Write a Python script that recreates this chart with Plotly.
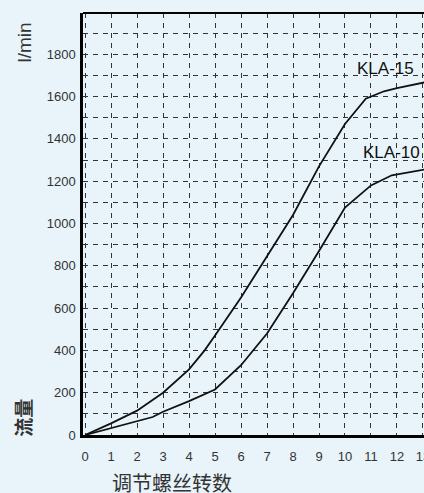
import plotly.graph_objects as go

# turns of the adjusting screw vs. flow (l/min)
kla15_x = [0, 1, 2, 3, 4, 4.6, 5, 6, 7, 8, 9, 10, 10.8, 11.5, 12, 13.1]
kla15_y = [0, 55, 115, 200, 310, 400, 470, 650, 845, 1040, 1270, 1470, 1590, 1625, 1640, 1668]

kla10_x = [0, 1, 2, 2.6, 3, 4, 5, 6, 7, 8, 9, 10, 11, 11.8, 13.1]
kla10_y = [0, 32, 65, 85, 110, 160, 215, 330, 480, 670, 870, 1075, 1180, 1228, 1256]

x_ticks = list(range(0, 14))
y_ticks = list(range(0, 1900, 200))

BG = "#e8f4fa"
TXT = "#333333"

fig = go.Figure()
for xs, ys, name in [(kla15_x, kla15_y, "KLA-15"), (kla10_x, kla10_y, "KLA-10")]:
    fig.add_trace(go.Scatter(x=xs, y=ys, mode="lines", name=name,
                             line={"color": "#111111", "width": 1.8}, showlegend=False))

grid = dict(showgrid=True, gridcolor="#333333", griddash="5px,5px", gridwidth=1.2)

fig.update_xaxes(
    range=[-0.08, 13.04], tickvals=x_ticks, ticks="", zeroline=False, automargin=False,
    showline=True, linecolor="#000000", linewidth=2.5, ticklabeloverflow="allow",
    tickfont={"size": 13, "color": TXT, "family": "Liberation Sans"},
    ticklabelstandoff=8, **grid,
)
fig.update_yaxes(
    range=[0, 1995], tickvals=y_ticks, ticks="", zeroline=False, automargin=False,
    showline=True, linecolor="#000000", linewidth=2.5, ticklabelstandoff=2,
    tickfont={"size": 13, "color": TXT, "family": "Liberation Sans"},
    minor=dict(dtick=100, showgrid=True, gridcolor="#333333", griddash="5px,5px", gridwidth=1.2),
    **grid,
)

# top border of the plot area
fig.add_shape(type="line", xref="paper", yref="paper", x0=0, x1=1, y0=1, y1=1,
              line={"color": "#000000", "width": 2})

fig.add_annotation(x=11.54, y=1733, text="KLA-15", showarrow=False,
                   font={"size": 17, "color": "#111111", "family": "Liberation Sans"})
fig.add_annotation(x=11.8, y=1337, text="KLA-10", showarrow=False,
                   font={"size": 17, "color": "#111111", "family": "Liberation Sans"})

fig.add_annotation(xref="paper", yref="paper", x=-0.17, y=0.93, text="l/min", textangle=-90,
                   showarrow=False, xanchor="center", yanchor="middle",
                   font={"size": 19, "color": TXT, "family": "Liberation Sans"})
fig.add_annotation(xref="paper", yref="paper", x=-0.18, y=0.04, text="<b>流量</b>", textangle=-90,
                   showarrow=False, xanchor="center", yanchor="middle",
                   font={"size": 19, "color": TXT, "family": "Noto Sans CJK SC"})
fig.add_annotation(xref="paper", yref="paper", x=0.26, y=-0.113, text="调节螺丝转数",
                   showarrow=False, xanchor="center", yanchor="middle",
                   font={"size": 20, "color": TXT, "family": "Noto Sans CJK SC"})

fig.update_layout(
    width=424, height=493,
    margin=dict(l=83, r=0, t=13, b=58, autoexpand=False),
    paper_bgcolor=BG, plot_bgcolor=BG,
    showlegend=False,
)

fig.write_html("out.html", config={"displayModeBar": False},
               post_script="document.body.style.margin='0';")
